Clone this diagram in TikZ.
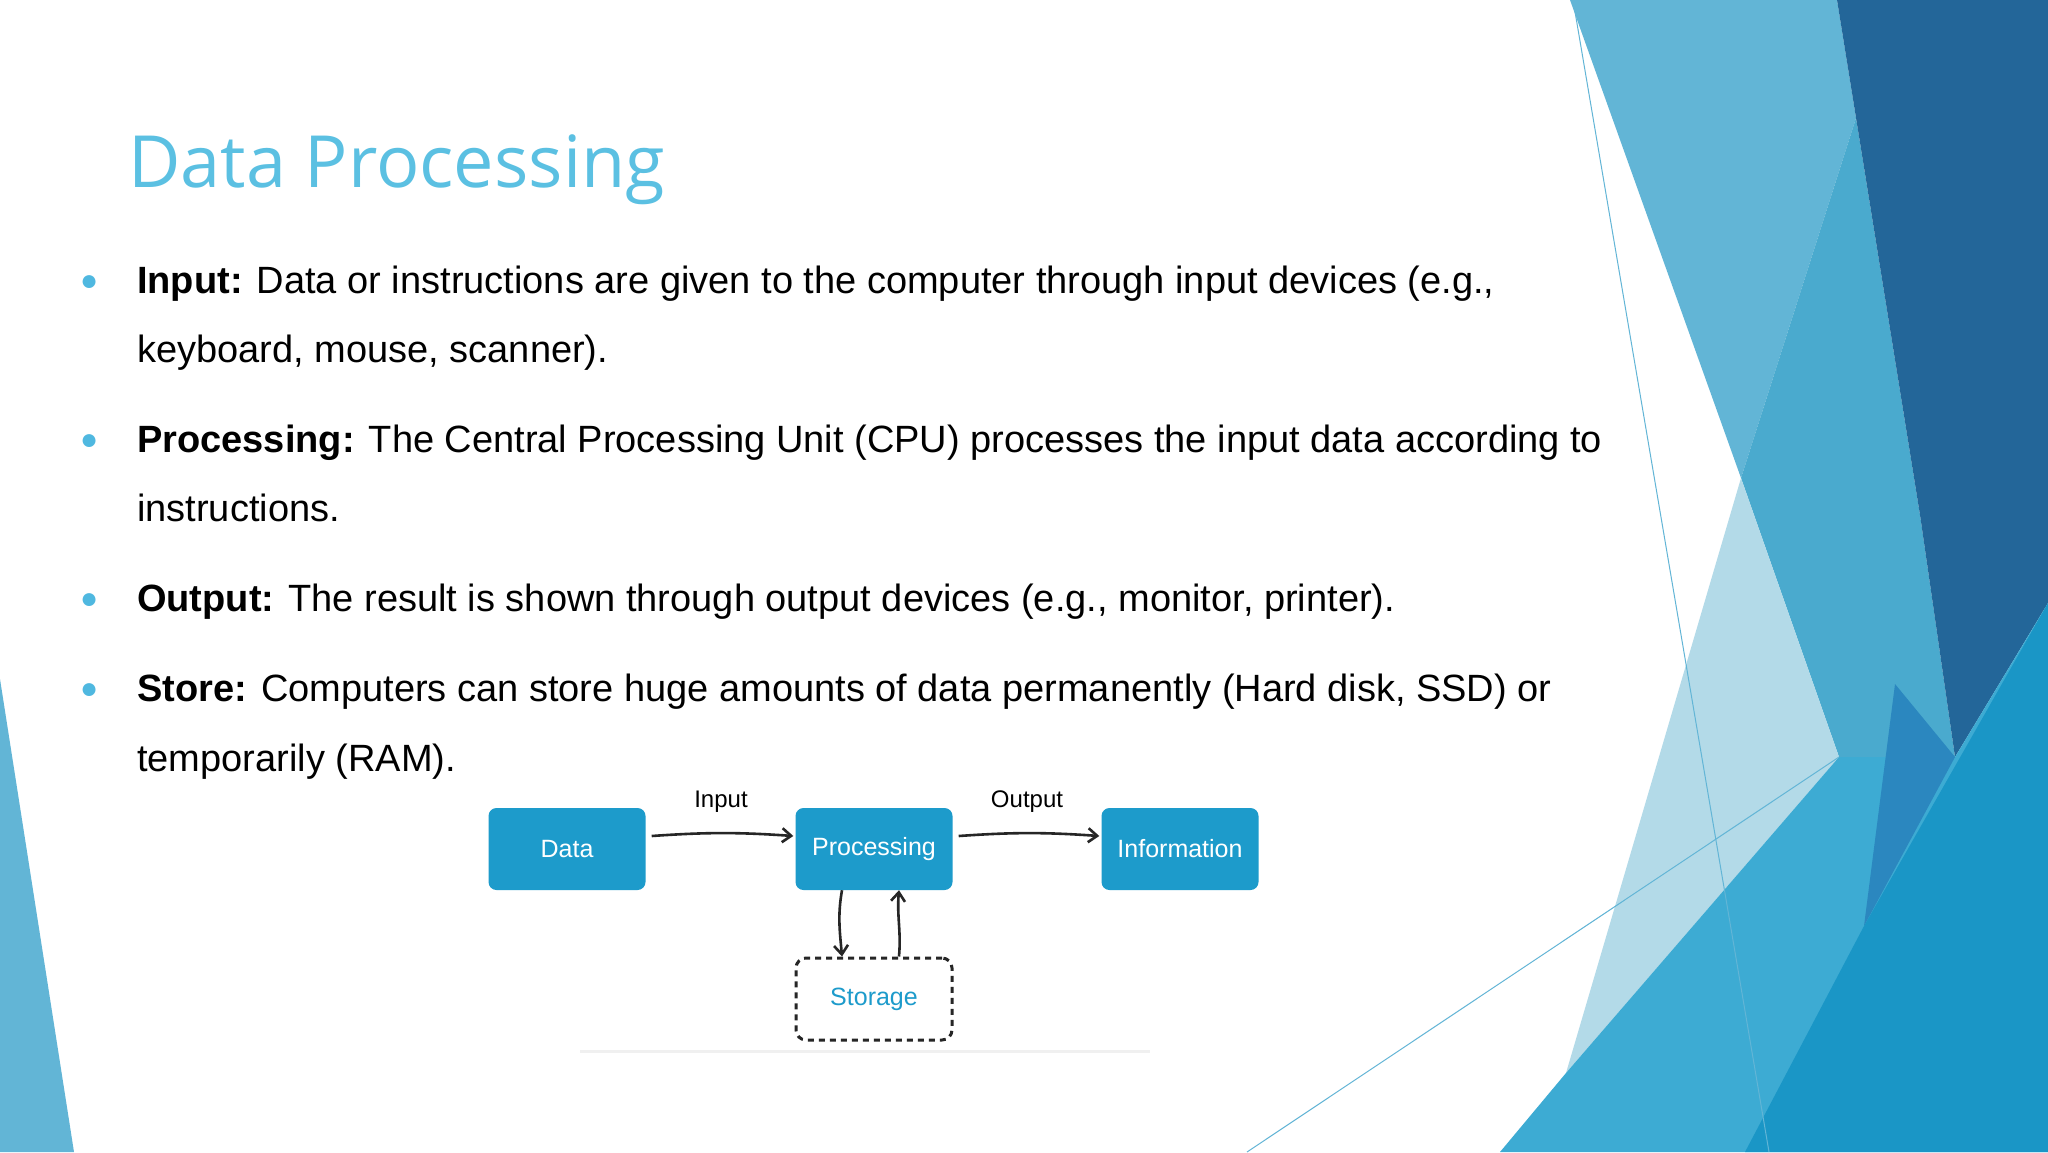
\documentclass[tikz,border=0pt]{standalone}
\usepackage{fontspec}
\setmainfont{Liberation Sans}
\newfontfamily\titlefont{Open Sans}
\usetikzlibrary{arrows.meta}
\definecolor{ttl}{HTML}{5BC0E2}
\definecolor{boxc}{HTML}{1D9BCB}
\definecolor{lb}{HTML}{62B5D6}
\definecolor{mb}{HTML}{4AAACE}
\definecolor{nv}{HTML}{236699}
\definecolor{bb}{HTML}{3DABD3}
\definecolor{db}{HTML}{1A96C6}
\definecolor{pb}{HTML}{2B87BF}
\definecolor{pale}{HTML}{B3DAE8}
\definecolor{bul}{HTML}{4FB8E0}
\tikzset{
 body/.style={anchor=base west,inner sep=0pt,font=\fontsize{38}{42}\selectfont},
 dot/.style={anchor=base west,inner sep=0pt,text=bul,font=\fontsize{30}{30}\selectfont},
 fbox/.style={fill=boxc,rounded corners=8pt,minimum width=157pt,minimum height=82pt,text=white,font=\fontsize{25}{25}\selectfont,inner sep=0pt},
 sbox/.style={draw=black!85,line width=3pt,dash pattern=on 6pt off 5pt,rounded corners=10pt,minimum width=156pt,minimum height=82pt,text=boxc,font=\fontsize{25}{25}\selectfont},
 lab/.style={font=\fontsize{24}{24}\selectfont,inner sep=0pt},
 arr/.style={-{Straight Barb[length=9pt,width=14pt]},line width=2.6pt,black!85},
 thin/.style={draw=lb,line width=1pt}
}
\begin{document}
\begin{tikzpicture}[x=1pt,y=-1pt]
\useasboundingbox (0,0) rectangle (2048,1152);
\fill[white] (0,0) rectangle (2048,1152);
% decoration
\fill[lb] (0,679) -- (74,1152) -- (0,1152) -- cycle;
\fill[lb] (1570,0) -- (1837,0) -- (1856,118) -- (1741,478) -- cycle;
\fill[mb] (1856,118) -- (1741,478) -- (1839,757) -- (1955,757) -- (1920,515) -- cycle;
\fill[pale] (1741,478) -- (1839,757) -- (1566,1073) -- cycle;
\fill[nv] (1837,0) -- (2048,0) -- (2048,603) -- (1955,757) -- (1920,515) -- cycle;
\fill[bb] (1500,1152) -- (1566,1073) -- (1839,757) -- (1955,757) -- (2048,603) -- (2048,1152) -- cycle;
\fill[pb] (1895,684) -- (1955,757) -- (1864,926) -- cycle;
\fill[db] (1745,1152) -- (1864,926) -- (2048,603) -- (2048,1152) -- cycle;
\draw[thin] (1573,0) -- (1769,1152);
\draw[thin] (1247,1152) -- (1839,757);
% title
\node[anchor=base west,inner sep=0pt,text=ttl,font=\titlefont\fontsize{72}{76}\selectfont] (title) at (128,187) {Data Processing};
% bullets
\node[dot] (b1) at (80,290) {●};
\node[body] (l1) at (137,293) {\textbf{Input:} Data or instructions are given to the computer through input devices (e.g.,};
\node[body] (l1b) at (137,362) {keyboard, mouse, scanner).};
\node[dot] (b2) at (80,449) {●};
\node[body] (l2) at (137,452) {\textbf{Processing:} The Central Processing Unit (CPU) processes the input data according to};
\node[body] (l2b) at (137,521) {instructions.};
\node[dot] (b3) at (80,608) {●};
\node[body] (l3) at (137,611) {\textbf{Output:} The result is shown through output devices (e.g., monitor, printer).};
\node[dot] (b4) at (80,698) {●};
\node[body] (l4) at (137,701) {\textbf{Store:} Computers can store huge amounts of data permanently (Hard disk, SSD) or};
\node[body] (l4b) at (137,771) {temporarily (RAM).};
% diagram
\fill[black!6] (580,1050) rectangle (1150,1053);
\node[fbox] (data) at (567,849) {Data};
\node[fbox] (proc) at (874,849) {Processing};
\node[fbox] (info) at (1180,849) {Information};
\node[sbox] (stor) at (874,999) {Storage};
\node[lab] (inl) at (721,802) {Input};
\node[lab] (outl) at (1027,802) {Output};
\draw[arr] ([shift={(6,-13)}]data.east) to[bend left=4] ([shift={(-2,-13)}]proc.west);
\draw[arr] ([shift={(6,-13)}]proc.east) to[bend left=4] ([shift={(-2,-13)}]info.west);
\draw[arr] ([xshift=-32pt]proc.south) to[out=-100,in=95] ([xshift=-32pt]stor.north);
\draw[arr] ([xshift=25pt]stor.north) to[out=85,in=-95] ([xshift=25pt]proc.south);
\end{tikzpicture}
\end{document}
